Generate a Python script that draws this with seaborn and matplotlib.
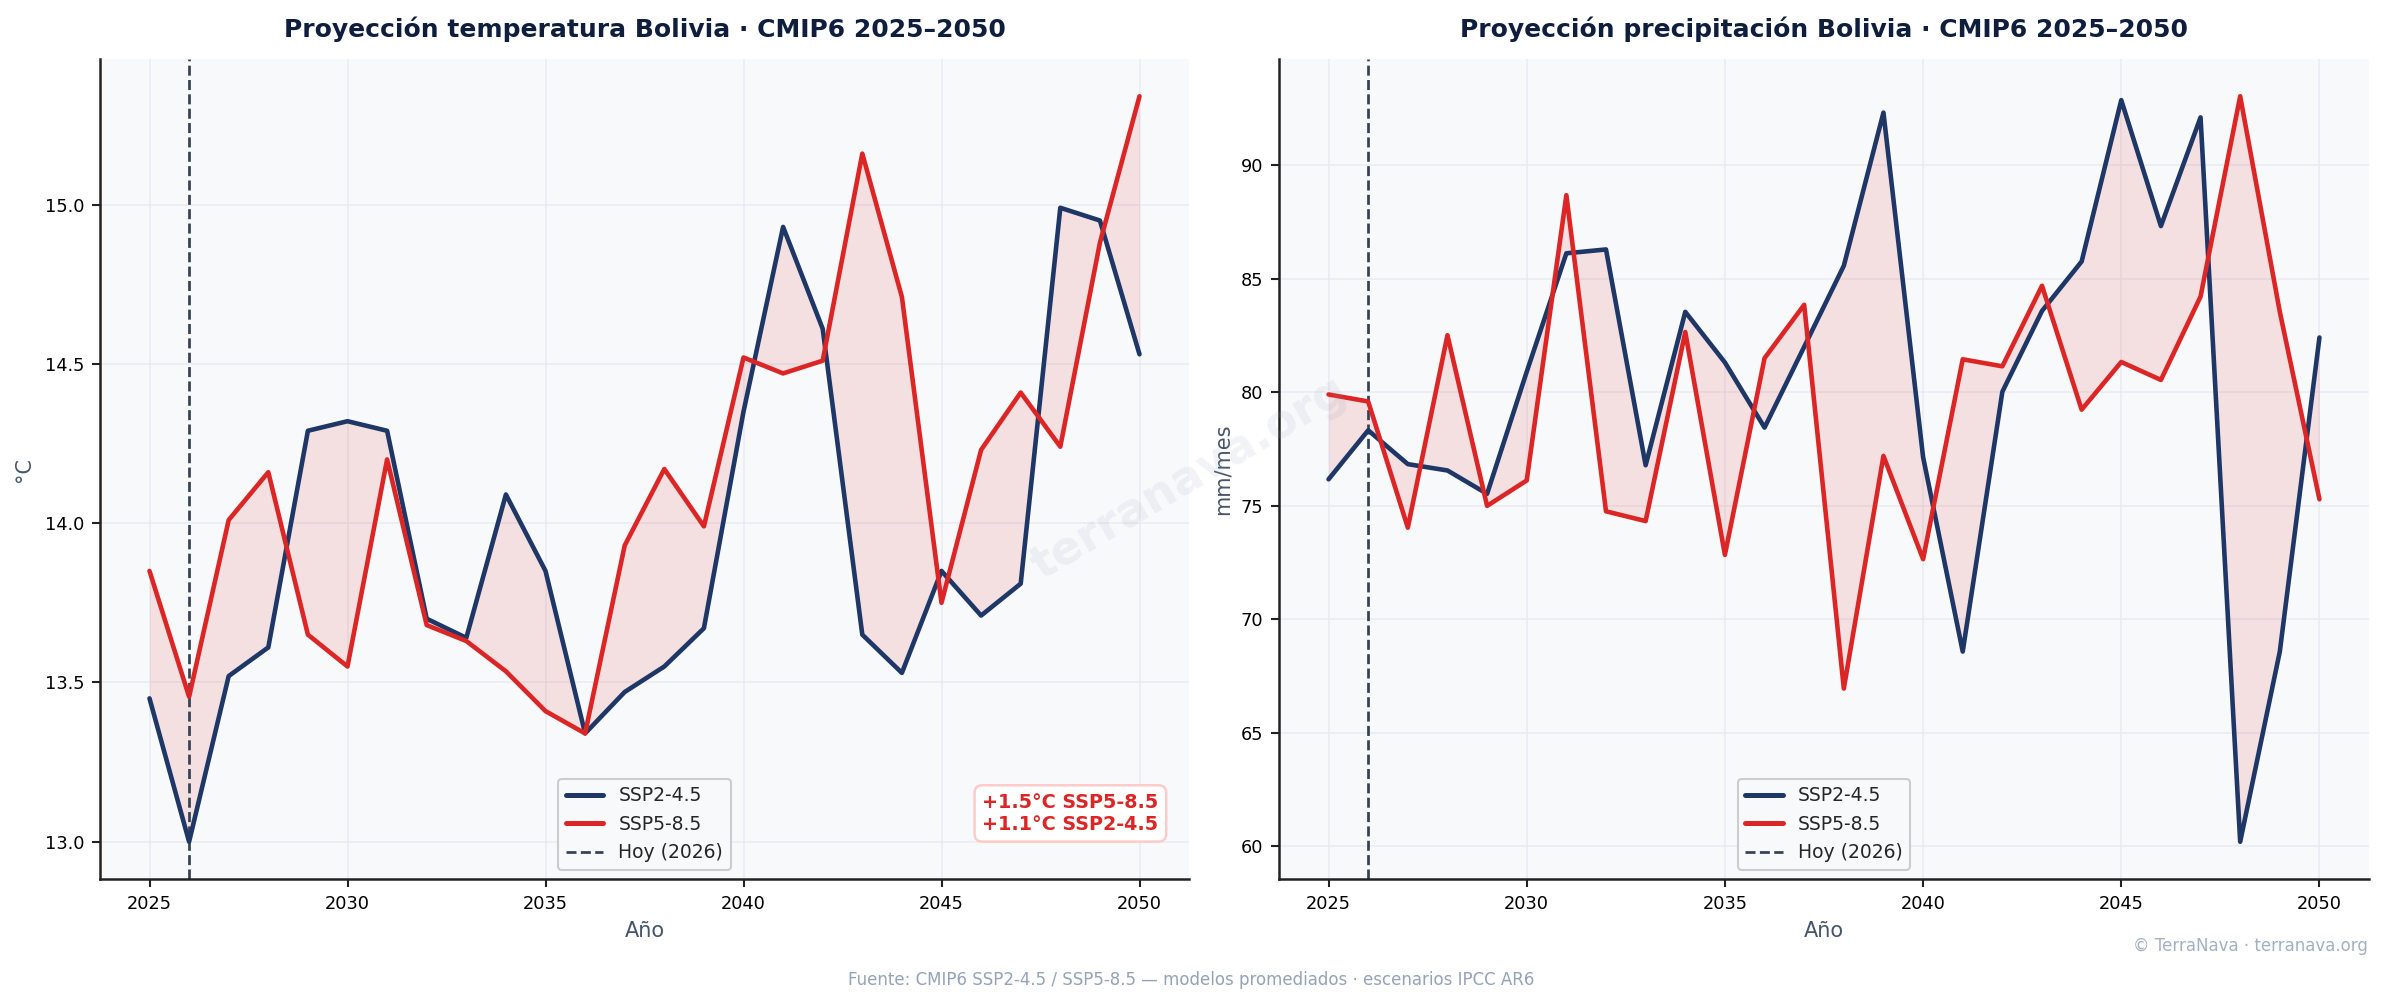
import numpy as np
import pandas as pd
import matplotlib
matplotlib.use("Agg")
import matplotlib.pyplot as plt
import seaborn as sns

years = list(range(2025, 2051))

temp_ssp245 = [13.45, 13.00, 13.52, 13.61, 14.29, 14.32, 14.29, 13.70, 13.64, 14.09,
               13.85, 13.34, 13.47, 13.55, 13.67, 14.35, 14.93, 14.61, 13.65, 13.53,
               13.85, 13.71, 13.81, 14.99, 14.95, 14.53]
temp_ssp585 = [13.85, 13.455, 14.01, 14.16, 13.65, 13.55, 14.20, 13.68, 13.63, 13.535,
               13.41, 13.34, 13.93, 14.17, 13.99, 14.52, 14.47, 14.51, 15.16, 14.71,
               13.75, 14.23, 14.41, 14.24, 14.88, 15.34]

prec_ssp245 = [76.16, 78.32, 76.83, 76.55, 75.52, 80.9, 86.12, 86.29, 76.78, 83.54,
               81.31, 78.44, 82.0, 85.57, 92.32, 77.14, 68.57, 80.02, 83.58, 85.76,
               92.87, 87.32, 92.11, 60.19, 68.57, 82.41]
prec_ssp585 = [79.90, 79.59, 74.03, 82.51, 74.99, 76.11, 88.68, 74.75, 74.32, 82.65,
               72.83, 81.50, 83.85, 66.94, 77.19, 72.64, 81.45, 81.14, 84.69, 79.23,
               81.33, 80.54, 84.21, 93.04, 83.54, 75.28]

scenario_labels = ["SSP2-4.5", "SSP5-8.5"]
today_year = 2026
today_label = "Hoy (2026)"

titles = ["Proyección temperatura Bolivia · CMIP6 2025–2050",
          "Proyección precipitación Bolivia · CMIP6 2025–2050"]
ylabels = ["°C", "mm/mes"]
xlabel = "Año"
annotation = "+1.5°C SSP5-8.5\n+1.1°C SSP2-4.5"
source = "Fuente: CMIP6 SSP2-4.5 / SSP5-8.5 — modelos promediados · escenarios IPCC AR6"
credit = "© TerraNava · terranava.org"
watermark = "terranava.org"

NAVY = "#1e3766"
RED = "#dc2626"
DARK = "#0f1e3d"
SLATE = "#475569"
MUTED = "#94a3b8"

sns.set_theme(style="ticks")
plt.rcParams["font.family"] = ["DejaVu Sans"]

fig = plt.figure(figsize=(2383 / 150, 1004 / 150), dpi=150)
ax1 = fig.add_axes([100 / 2383, 1 - 879 / 1004, 1089 / 2383, 820 / 1004])
ax2 = fig.add_axes([1279 / 2383, 1 - 879 / 1004, 1090 / 2383, 820 / 1004])

datasets = [(temp_ssp245, temp_ssp585), (prec_ssp245, prec_ssp585)]

for i, (ax, (s245, s585)) in enumerate(zip([ax1, ax2], datasets)):
    df = pd.DataFrame({
        "year": years * 2,
        "value": list(s245) + list(s585),
        "scenario": [scenario_labels[0]] * len(years) + [scenario_labels[1]] * len(years),
    })
    ax.set_facecolor("#f8f9fb")
    ax.fill_between(years, s245, s585, color=RED, alpha=0.12, linewidth=0, zorder=1)
    sns.lineplot(data=df, x="year", y="value", hue="scenario",
                 palette={scenario_labels[0]: NAVY, scenario_labels[1]: RED},
                 linewidth=2.2, ax=ax, zorder=3)
    ax.axvline(today_year, color="#334155", linestyle="--", linewidth=1.3,
               label=today_label, zorder=2)
    ax.grid(True, color="#e6e9f2", linewidth=0.8, alpha=0.8)
    ax.set_axisbelow(True)
    for side in ["top", "right"]:
        ax.spines[side].set_visible(False)
    for side in ["left", "bottom"]:
        ax.spines[side].set_color("#222222")
        ax.spines[side].set_linewidth(1.2)
    ax.tick_params(axis="both", labelsize=8.5, colors="#222222", length=4, width=1.0,
                   labelcolor="black")
    ax.set_xticks([2025, 2030, 2035, 2040, 2045, 2050])
    ax.set_title(titles[i], fontsize=12, fontweight="bold", color=DARK, pad=10.5)
    ax.set_xlabel(xlabel, fontsize=10, color=SLATE)
    ax.set_ylabel(ylabels[i], fontsize=10, color=SLATE)
    handles, labels = ax.get_legend_handles_labels()
    leg = ax.legend(handles=handles, labels=labels, loc="lower center", fontsize=9,
                    frameon=True, facecolor="#f8f9fb", edgecolor="#cccccc",
                    framealpha=1.0)
    for h in leg.get_lines():
        h.set_linewidth(2.4 if h.get_linestyle() == "-" else 1.3)

ax1.set_ylabel(ylabels[0], fontsize=10, color=SLATE, labelpad=5)
ax1.text(0.972, 0.055, annotation, transform=ax1.transAxes, ha="right", va="bottom",
         multialignment="center", fontsize=9.2, fontweight="bold", color=RED, zorder=6,
         bbox=dict(boxstyle="round,pad=0.4", facecolor="white", edgecolor="#fecaca",
                   linewidth=1.2))

fig.text(0.499, 0.523, watermark, fontsize=22, fontweight="bold", color="#94a3b8",
         alpha=0.13, rotation=30.5, ha="center", va="center", zorder=10)
fig.text(0.5, 0.024, source, ha="center", va="center", fontsize=8, color=MUTED)
fig.text(0.9935, 0.058, credit, ha="right", va="center", fontsize=8, color="#a3b0c4")

fig.savefig("out.png", dpi=150, facecolor="white")
